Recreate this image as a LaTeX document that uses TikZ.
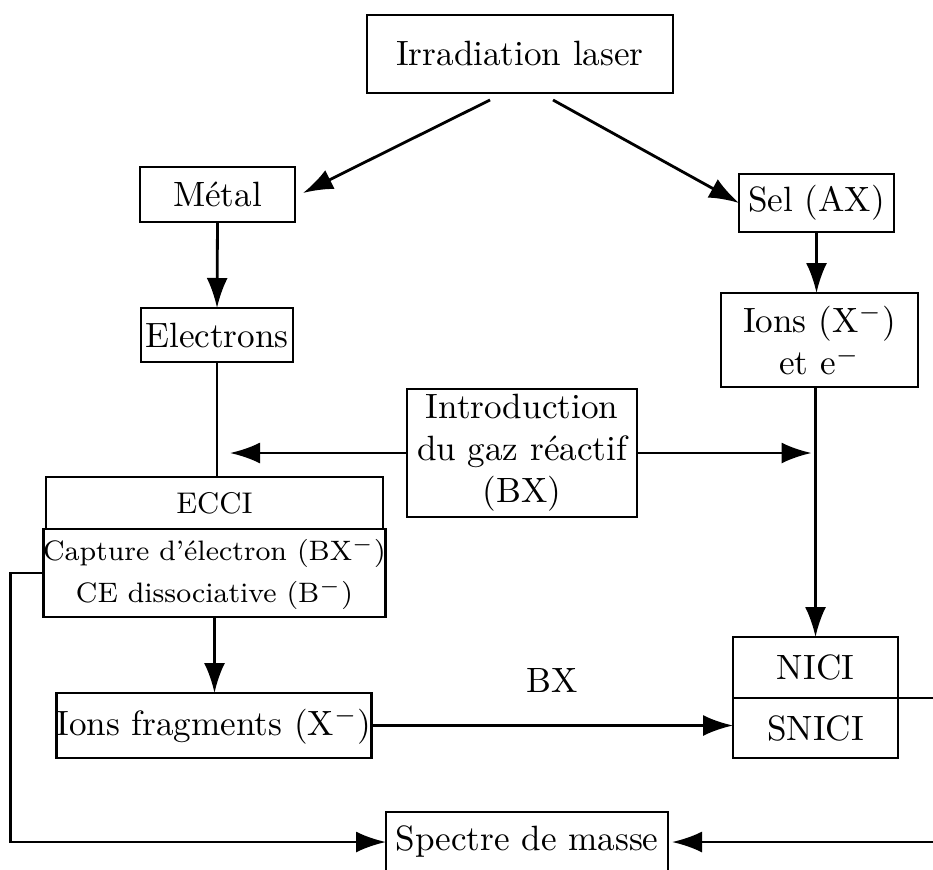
\documentclass[tikz,border=0pt]{standalone}
\usepackage{tikz}
\usepackage{amsmath}
\usetikzlibrary{arrows.meta}

\begin{document}
\begin{tikzpicture}[
		box/.style={shape=rectangle, draw, line width=0.8pt, align=center, inner sep=0pt, outer sep=0pt},
		smallbox/.style={box, font=\fontsize{8}{12}\selectfont},
		arr/.style={-{Latex[length=3mm,width=2.1mm]}, line width=0.8pt},
		link/.style={line width=0.8pt}
		]
		\useasboundingbox (0,0) rectangle (9.33,-8.69);
		\clip (0,0) rectangle (9.33,-8.69);
		\coordinate (redge) at (9.33,0);
		% boxes
		\node[box, minimum width=3.06cm, minimum height=0.78cm] (irr) at (5.20,-0.54) {Irradiation laser};
		\node[box, minimum width=1.55cm, minimum height=0.55cm] (metal) at (2.175,-1.945) {Métal};
		\node[box, minimum width=1.55cm, minimum height=0.58cm] (sel) at (8.165,-2.03) {Sel (AX)};
		\node[box, minimum width=1.52cm, minimum height=0.54cm] (elec) at (2.17,-3.35) {Electrons};
		\node[box, minimum width=1.97cm, minimum height=0.94cm] (ions) at (8.195,-3.40) {Ions (X$^{-}$)\\et e$^{-}$};
		\node[box, minimum width=2.30cm, minimum height=1.28cm] (intro) at (5.22,-4.53) {Introduction\\du gaz réactif\\(BX)};
		\node[box, font=\fontsize{8.5}{12}\selectfont, minimum width=3.37cm, minimum height=0.52cm] (ecci) at (2.145,-5.03) {ECCI};
		\node[smallbox, minimum width=3.37cm, minimum height=0.88cm, anchor=north] (ecciB) at (ecci.south) {Capture d'électron (BX$^{-}$)\\CE dissociative (B$^{-}$)};
		\node[box, minimum width=3.06cm, minimum height=0.65cm] (frag) at (2.14,-7.255) {Ions fragments (X$^{-}$)};
		\node[box, minimum width=1.65cm, minimum height=0.61cm] (nici) at (8.155,-6.675) {NICI};
		\node[box, minimum width=1.65cm, minimum height=0.60cm, anchor=north] (snici) at (nici.south) {SNICI};
		\node[box, minimum width=2.82cm, minimum height=0.60cm] (spectre) at (5.27,-8.42) {Spectre de masse};
		% connectors
		\draw[arr] ([xshift=-3mm,yshift=-0.7mm]irr.south) -- ([xshift=0.8mm,yshift=0.15mm]metal.east);
		\draw[arr] ([xshift=3.3mm,yshift=-0.7mm]irr.south) -- (sel.west);
		\draw[arr] (metal.south) -- (elec.north);
		\draw[arr] (sel.south) -- (sel.south |- ions.north);
		\draw[link] (elec.south) -- (elec.south |- ecci.north);
		\draw[arr] (ions.south -| nici.north) -- (nici.north);
		\draw[arr, shorten >=1.3mm] (intro.west) -- (intro.west -| elec.south);
		\draw[arr, shorten >=0.4mm] (intro.east) -- (intro.east -| nici.north);
		\draw[arr] (ecciB.south) -- (ecciB.south |- frag.north);
		\draw[arr] (frag.east) -- (frag.east -| snici.west) node[midway, above=2mm] {BX};
		\draw[arr] (ecciB.west) -- ++(-0.33,0) |- (spectre.west);
		\draw[arr, shorten >=0.4mm] (spectre.east -| redge) -- (spectre.east);
		\draw[link] (nici.south east) -- (nici.south east -| redge);
	\end{tikzpicture}
\end{document}
